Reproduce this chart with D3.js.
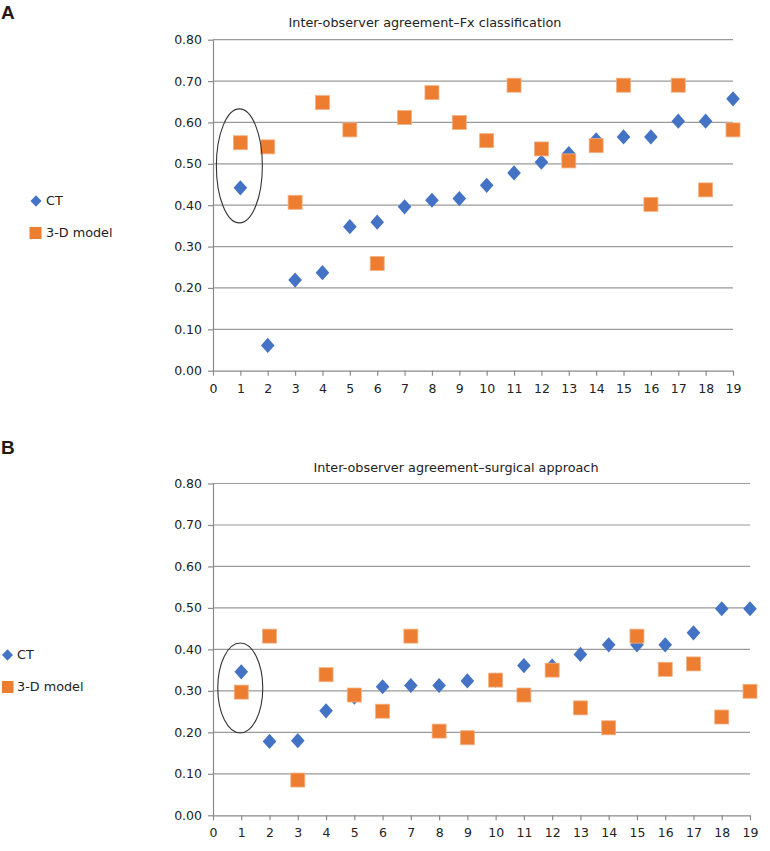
<!DOCTYPE html>
<html>
<head>
<meta charset="utf-8">
<script src="https://cdn.jsdelivr.net/npm/d3@7"></script>
<style>
  body { margin: 0; background: #fff; }
  svg { display: block; }
  .tick text { font-family: "DejaVu Sans", Verdana, sans-serif; font-size: 12.5px; fill: #222; }
</style>
</head>
<body>
<svg id="chart" width="770" height="851"></svg>
<script>
// ---- data ----
const cases = d3.range(1, 20);
const xTicks = d3.range(0, 20);
const yTicks = [0, 0.1, 0.2, 0.3, 0.4, 0.5, 0.6, 0.7, 0.8];
const seriesNames = ["CT", "3-D model"];

const titleA = "Inter-observer agreement\u2013Fx classification";
const ctA  = [0.442, 0.061, 0.219, 0.237, 0.348, 0.359, 0.396, 0.412, 0.416, 0.448, 0.478, 0.504, 0.525, 0.558, 0.565, 0.565, 0.603, 0.603, 0.657];
const m3dA = [0.551, 0.541, 0.407, 0.648, 0.582, 0.259, 0.612, 0.672, 0.600, 0.556, 0.690, 0.536, 0.507, 0.544, 0.690, 0.402, 0.690, 0.437, 0.582];

const titleB = "Inter-observer agreement\u2013surgical approach";
const ctB  = [0.346, 0.178, 0.180, 0.252, 0.285, 0.310, 0.313, 0.313, 0.324, 0.326, 0.361, 0.360, 0.388, 0.411, 0.411, 0.411, 0.440, 0.498, 0.498];
const m3dB = [0.297, 0.432, 0.085, 0.339, 0.290, 0.251, 0.432, 0.203, 0.187, 0.326, 0.290, 0.350, 0.259, 0.211, 0.432, 0.352, 0.365, 0.237, 0.299];

const colors = { ct: "#4472C4", m3d: "#ED7D31", m3dStroke: "#F4B183" };
const svg = d3.select("#chart");

function diamond(hw, hh) {
  return `M0,${-hh}L${hw},0L0,${hh}L${-hw},0Z`;
}

function drawPanel(cfg) {
  const x = d3.scaleLinear().domain([0, 19]).range([cfg.left, cfg.right]);
  const y = d3.scaleLinear().domain([0, 0.8]).range([cfg.bottom, cfg.top]);
  const g = svg.append("g");

  // panel label
  g.append("text").attr("x", 1).attr("y", cfg.labelY)
    .attr("font-family", "Liberation Sans, Arial, sans-serif")
    .attr("font-weight", "bold").attr("font-size", 19).attr("fill", "#231815")
    .text(cfg.label);

  // title
  g.append("text").attr("x", cfg.titleX).attr("y", cfg.titleY)
    .attr("text-anchor", "middle")
    .attr("font-family", "DejaVu Sans, Verdana, sans-serif")
    .attr("font-size", 12.8).attr("fill", "#222")
    .text(cfg.title);

  // gridlines
  g.append("g").selectAll("line").data(yTicks.filter(d => d > 0)).join("line")
    .attr("x1", x(0)).attr("x2", x(19))
    .attr("y1", d => y(d)).attr("y2", d => y(d))
    .attr("stroke", "#9a9a9a").attr("stroke-width", 1.2);

  // y axis
  const ya = g.append("g").attr("transform", `translate(${x(0)},0)`)
    .call(d3.axisLeft(y).tickValues(yTicks).tickFormat(d3.format(".2f")).tickSize(5).tickSizeOuter(0).tickPadding(6));
  ya.select(".domain").attr("stroke", "#8a8a8a").attr("stroke-width", 1.2);
  ya.selectAll(".tick line").attr("stroke", "#8a8a8a").attr("stroke-width", 1.2);

  // x axis
  const xa = g.append("g").attr("transform", `translate(0,${y(0)})`)
    .call(d3.axisBottom(x).tickValues(xTicks).tickFormat(d3.format("d")).tickSize(5).tickSizeOuter(0).tickPadding(8));
  xa.select(".domain").attr("stroke", "#8a8a8a").attr("stroke-width", 1.2);
  xa.selectAll(".tick line").attr("stroke", "#8a8a8a").attr("stroke-width", 1.2);

  // CT diamonds
  g.append("g").selectAll("path").data(cfg.ct).join("path")
    .attr("transform", (d, i) => `translate(${x(cases[i])},${y(d)})`)
    .attr("d", diamond(6.8, 7.6))
    .attr("fill", colors.ct);

  // 3-D model squares
  const s = 14;
  g.append("g").selectAll("rect").data(cfg.m3d).join("rect")
    .attr("x", (d, i) => x(cases[i]) - s / 2)
    .attr("y", d => y(d) - s / 2)
    .attr("width", s).attr("height", s)
    .attr("fill", colors.m3d).attr("stroke", colors.m3dStroke).attr("stroke-width", 0.8);

  // ellipse annotation around case 1
  g.append("ellipse")
    .attr("cx", x(1) - 1).attr("cy", y(cfg.ellipseCenter))
    .attr("rx", cfg.erx).attr("ry", cfg.ery)
    .attr("fill", "none").attr("stroke", "#333").attr("stroke-width", 1.1);

  // legend
  const lg = g.append("g").attr("font-family", "DejaVu Sans, Verdana, sans-serif")
    .attr("font-size", 12.8).attr("fill", "#222");
  lg.append("path").attr("transform", `translate(${cfg.legX},${cfg.legY1})`)
    .attr("d", diamond(5.5, 5.8)).attr("fill", colors.ct);
  lg.append("text").attr("x", cfg.legTextX).attr("y", cfg.legY1).attr("dy", "0.35em").text(seriesNames[0]);
  lg.append("rect").attr("x", cfg.legSqX).attr("y", cfg.legY2 - 6)
    .attr("width", cfg.legSqW).attr("height", 12).attr("fill", colors.m3d);
  lg.append("text").attr("x", cfg.legTextX).attr("y", cfg.legY2).attr("dy", "0.35em").text(seriesNames[1]);
}

drawPanel({
  label: "A", labelY: 19, title: titleA, titleX: 425, titleY: 27,
  left: 213, right: 733, top: 39.7, bottom: 370.7,
  ct: ctA, m3d: m3dA, ellipseCenter: 0.495, erx: 23, ery: 57,
  legX: 36, legY1: 201, legY2: 233, legTextX: 46, legSqX: 29.5, legSqW: 12
});

drawPanel({
  label: "B", labelY: 454, title: titleB, titleX: 456, titleY: 472,
  left: 213, right: 750, top: 483.5, bottom: 815.3,
  ct: ctB, m3d: m3dB, ellipseCenter: 0.307, erx: 22.5, ery: 45,
  legX: 7.5, legY1: 655, legY2: 687, legTextX: 17, legSqX: 2, legSqW: 11.5
});
</script>
</body>
</html>
